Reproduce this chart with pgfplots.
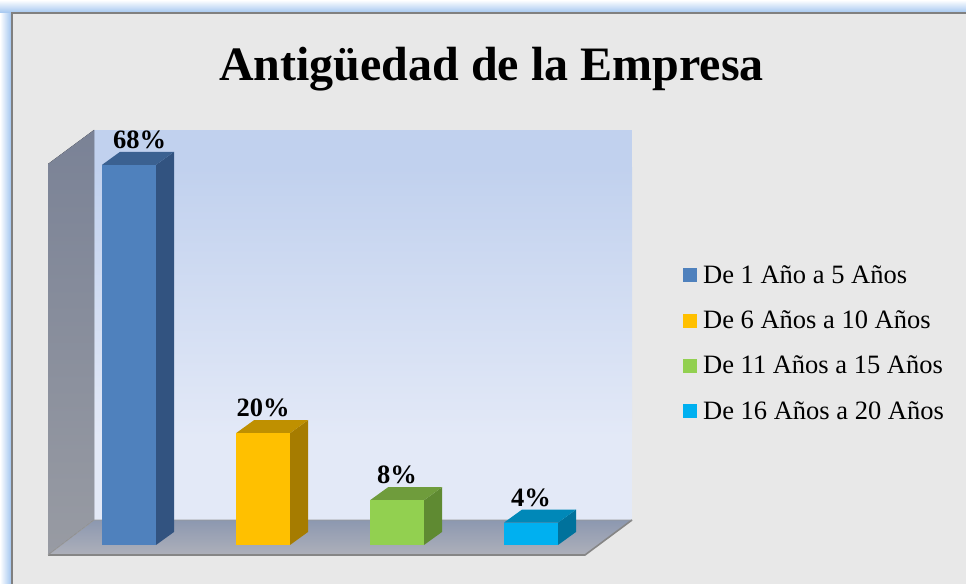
\documentclass[border=0pt]{standalone}
\usepackage{fontspec}
\setmainfont{Liberation Serif}
\usepackage{pgfplots}
\pgfplotsset{compat=1.18}
\definecolor{stone}{HTML}{E8E8E8}
\definecolor{frameblue}{HTML}{A3C6F0}
\definecolor{walltop}{HTML}{C1D1EE}
\definecolor{wallbot}{HTML}{E3E9F7}
\definecolor{bluef}{HTML}{4F81BD}\definecolor{blues}{HTML}{325380}\definecolor{bluet}{HTML}{3B6191}
\definecolor{goldf}{HTML}{FFC000}\definecolor{golds}{HTML}{A67C00}\definecolor{goldt}{HTML}{BF9000}
\definecolor{greenf}{HTML}{92D050}\definecolor{greens}{HTML}{5F8A32}\definecolor{greent}{HTML}{6F9C3C}
\definecolor{cyanf}{HTML}{00B0F0}\definecolor{cyans}{HTML}{00729C}\definecolor{cyant}{HTML}{0088B8}
\pgfplotsset{
  facebar/.style={ybar, bar width=54pt, bar shift=0pt, draw=none, fill=#1,
    legend image code/.code={\fill[#1] (0pt,-7pt) rectangle (14pt,7pt); \path (18pt,0pt);},
    nodes near coords={\pgfmathprintnumber{\pgfplotspointmeta}\%},
    every node near coord/.append style={font=\bfseries\fontsize{26.5}{28}\selectfont, text=black, anchor=south, inner sep=0pt, yshift=16pt}},
  poly/.style={draw=none, fill=#1, forget plot, mark=none},
}
\begin{document}
\begin{tikzpicture}
\begin{axis}[
  scale only axis, width=966pt, height=584pt,
  xmin=0, xmax=966, ymin=-6.977, ymax=97.496,
  hide axis, clip=false,
  /pgf/number format/assume math mode=true,
  legend style={draw=none, fill=none, at={(axis cs:683,50.36)}, anchor=north west,
    font=\fontsize{26.5}{28}\selectfont, row sep=21.8pt, inner sep=0pt},
  legend cell align=left,
]
% page background and frame
\addplot[poly=frameblue, left color=white, right color=frameblue] coordinates {(0,-6.977)(11,-6.977)(11,97.496)(0,97.496)};
\addplot[poly=frameblue, bottom color=frameblue, top color=white] coordinates {(0,95.2)(966,95.2)(966,97.496)(0,97.496)};
\addplot[poly=gray] coordinates {(11,-6.977)(966,-6.977)(966,95.4)(11,95.4)};
\addplot[poly=stone] coordinates {(13,-6.977)(966,-6.977)(966,95.05)(13,95.05)};
% back wall
\addplot[poly=walltop] coordinates {(94,67.5)(632,67.5)(632,74.24)(94,74.24)};
\addplot[poly=walltop, top color=walltop, bottom color=wallbot] coordinates {(94,19.23)(632,19.23)(632,67.53)(94,67.53)};
\addplot[poly=wallbot] coordinates {(94,4.47)(632,4.47)(632,19.26)(94,19.26)};
% left wall
\addplot[poly=black, top color={rgb,255:red,122;green,130;blue,150}, bottom color={rgb,255:red,152;green,155;blue,163}] coordinates {(48,-1.79)(94,4.47)(94,74.24)(48,68.16)};
% floor
\addplot[poly=black, top color={rgb,255:red,140;green,152;blue,176}, bottom color={rgb,255:red,174;green,176;blue,186}] coordinates {(48,-1.79)(585,-1.79)(632,4.47)(94,4.47)};
\addplot[forget plot, mark=none, line width=1.6pt, color=gray!95!white] coordinates {(48,-1.79)(585,-1.79)(632,4.47)};
\addplot[forget plot, mark=none, line width=0.8pt, color=gray!80!white] coordinates {(48,-1.79)(94,4.47)(632,4.47)};
% side and top faces
\addplot[poly=blues] coordinates {(156,0)(174,2.33)(174,70.33)(156,68)};
\addplot[poly=bluet] coordinates {(102,68)(120,70.33)(174,70.33)(156,68)};
\addplot[poly=golds] coordinates {(290,0)(308,2.33)(308,22.33)(290,20)};
\addplot[poly=goldt] coordinates {(236,20)(254,22.33)(308,22.33)(290,20)};
\addplot[poly=greens] coordinates {(424,0)(442,2.33)(442,10.33)(424,8)};
\addplot[poly=greent] coordinates {(370,8)(388,10.33)(442,10.33)(424,8)};
\addplot[poly=cyans] coordinates {(558,0)(576,2.33)(576,6.33)(558,4)};
\addplot[poly=cyant] coordinates {(504,4)(522,6.33)(576,6.33)(558,4)};
% front faces
\addplot[facebar=bluef, every node near coord/.append style={xshift=10.5pt}] coordinates {(129,68)};
\addlegendentry{De 1 Año a 5 Años}
\addplot[facebar=goldf] coordinates {(263,20)};
\addlegendentry{De 6 Años a 10 Años}
\addplot[facebar=greenf] coordinates {(397,8)};
\addlegendentry{De 11 Años a 15 Años}
\addplot[facebar=cyanf] coordinates {(531,4)};
\addlegendentry{De 16 Años a 20 Años}
\node[anchor=base, font=\bfseries\fontsize{48}{50}\selectfont, inner sep=0pt] at (axis cs:491.5,83.18) {Antigüedad de la Empresa};
\end{axis}
\end{tikzpicture}
\end{document}
